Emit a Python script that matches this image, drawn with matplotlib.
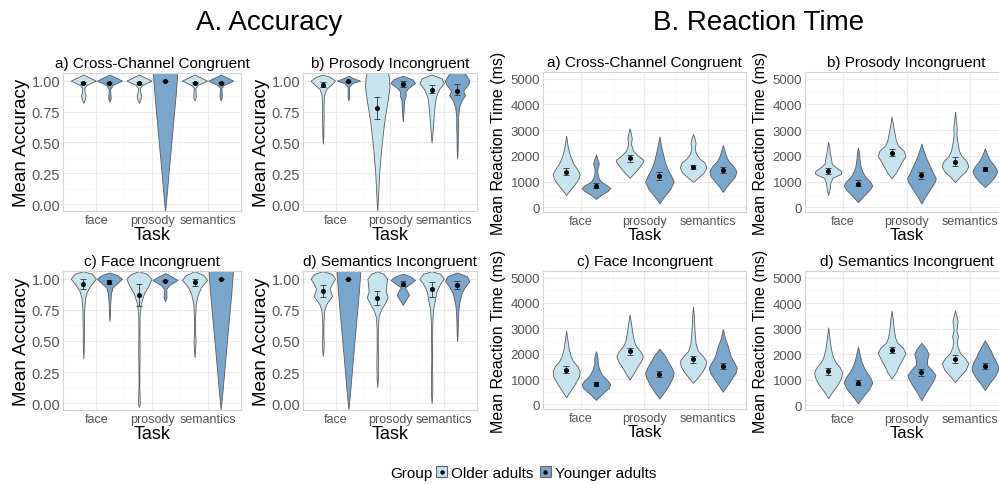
import numpy as np
import matplotlib
matplotlib.use('Agg')
from matplotlib import pyplot as plt
from matplotlib.patches import Patch
from matplotlib.lines import Line2D
from matplotlib.legend_handler import HandlerTuple

plt.rcParams['font.family'] = ['Liberation Sans', 'DejaVu Sans']

tasks = ['face', 'prosody', 'semantics']
groups = ['Older adults', 'Younger adults']
group_colors = ['#c6e3ee', '#7aa6cc']

acc_ticks = [0.0, 0.25, 0.5, 0.75, 1.0]
rt_ticks = [0, 1000, 2000, 3000, 4000, 5000]

# violin outlines as (value, relative width) pairs
# order: face old, face young, prosody old, prosody young, semantics old, semantics young

# --- A. Accuracy ---
acc_cc_shapes = [
    [(0.82, 0), (0.85, 0.12), (0.88, 0.18), (0.91, 0.1), (0.94, 0.08), (0.965, 0.25), (1.0, 1.0), (1.03, 0.4), (1.05, 0)],
    [(0.83, 0), (0.86, 0.1), (0.89, 0.08), (0.93, 0.05), (0.965, 0.25), (1.0, 1.0), (1.03, 0.4), (1.05, 0)],
    [(0.82, 0), (0.85, 0.12), (0.88, 0.18), (0.91, 0.1), (0.94, 0.08), (0.965, 0.25), (1.0, 1.0), (1.03, 0.4), (1.05, 0)],
    [(-0.06, 0), (0.1, 0.15), (0.3, 0.32), (0.5, 0.5), (0.7, 0.68), (0.9, 0.86), (1.1, 1.0)],
    [(0.84, 0), (0.87, 0.1), (0.9, 0.08), (0.94, 0.06), (0.965, 0.25), (1.0, 1.0), (1.03, 0.4), (1.05, 0)],
    [(0.84, 0), (0.87, 0.1), (0.9, 0.08), (0.94, 0.06), (0.965, 0.25), (1.0, 1.0), (1.03, 0.4), (1.05, 0)],
]
acc_cc_mean = [0.98, 0.985, 0.98, 1.0, 0.985, 0.985]
acc_cc_lo = [0.97, 0.978, 0.97, 1.0, 0.978, 0.978]
acc_cc_hi = [0.99, 0.992, 0.99, 1.0, 0.992, 0.992]

acc_pi_shapes = [
    [(0.49, 0), (0.55, 0.04), (0.65, 0.05), (0.72, 0.07), (0.8, 0.06), (0.88, 0.1), (0.93, 0.25), (0.97, 0.7), (1.0, 1.0), (1.03, 0.6), (1.05, 0)],
    [(0.84, 0), (0.87, 0.08), (0.9, 0.05), (0.95, 0.06), (0.98, 0.3), (1.0, 0.95), (1.02, 0.4), (1.04, 0)],
    [(-0.06, 0), (0.05, 0.06), (0.25, 0.16), (0.4, 0.28), (0.5, 0.38), (0.65, 0.55), (0.75, 0.7), (0.85, 0.87), (0.95, 1.0), (1.03, 0.95), (1.1, 0.8)],
    [(0.67, 0), (0.72, 0.04), (0.78, 0.08), (0.84, 0.1), (0.88, 0.25), (0.91, 0.2), (0.94, 0.45), (0.98, 1.0), (1.01, 0.8), (1.04, 0)],
    [(0.5, 0), (0.55, 0.05), (0.62, 0.1), (0.72, 0.18), (0.8, 0.25), (0.87, 0.35), (0.93, 0.6), (0.98, 1.0), (1.02, 0.8), (1.05, 0)],
    [(0.37, 0), (0.45, 0.04), (0.55, 0.05), (0.62, 0.08), (0.7, 0.07), (0.78, 0.15), (0.84, 0.35), (0.88, 0.65), (0.92, 0.5), (0.97, 0.9), (1.0, 1.0), (1.05, 0.7), (1.08, 0.3)],
]
acc_pi_mean = [0.965, 0.995, 0.775, 0.975, 0.925, 0.915]
acc_pi_lo = [0.945, 0.988, 0.69, 0.95, 0.9, 0.88]
acc_pi_hi = [0.99, 1.0, 0.865, 1.0, 0.965, 0.97]

acc_fi_shapes = [
    [(0.36, 0), (0.45, 0.04), (0.6, 0.05), (0.75, 0.07), (0.85, 0.15), (0.9, 0.3), (0.95, 0.6), (1.0, 1.0), (1.04, 0.7), (1.06, 0)],
    [(0.66, 0), (0.72, 0.04), (0.8, 0.06), (0.88, 0.12), (0.93, 0.25), (0.97, 0.7), (1.0, 1.0), (1.03, 0.6), (1.05, 0)],
    [(-0.03, 0), (0.0, 0.08), (0.05, 0.06), (0.15, 0.03), (0.3, 0.04), (0.42, 0.06), (0.55, 0.04), (0.7, 0.05), (0.8, 0.15), (0.88, 0.4), (0.95, 0.8), (1.0, 1.0), (1.04, 0.6), (1.06, 0)],
    [(0.82, 0), (0.85, 0.12), (0.88, 0.1), (0.92, 0.1), (0.95, 0.35), (0.99, 1.0), (1.02, 0.5), (1.045, 0)],
    [(0.37, 0), (0.42, 0.04), (0.5, 0.08), (0.58, 0.04), (0.7, 0.05), (0.8, 0.1), (0.87, 0.25), (0.93, 0.5), (0.99, 1.0), (1.03, 0.7), (1.06, 0)],
    [(-0.05, 0), (0.1, 0.15), (0.3, 0.32), (0.5, 0.5), (0.7, 0.68), (0.9, 0.86), (1.1, 1.0)],
]
acc_fi_mean = [0.955, 0.975, 0.87, 0.985, 0.97, 1.0]
acc_fi_lo = [0.92, 0.96, 0.78, 0.978, 0.94, 1.0]
acc_fi_hi = [0.995, 0.99, 0.96, 0.992, 1.0, 1.0]

acc_si_shapes = [
    [(0.38, 0), (0.43, 0.05), (0.48, 0.08), (0.55, 0.04), (0.65, 0.05), (0.75, 0.12), (0.8, 0.3), (0.86, 0.75), (0.92, 0.55), (0.97, 0.8), (1.0, 1.0), (1.04, 0.7), (1.06, 0)],
    [(-0.05, 0), (0.1, 0.15), (0.3, 0.32), (0.5, 0.5), (0.7, 0.68), (0.9, 0.86), (1.1, 1.0)],
    [(0.13, 0), (0.2, 0.05), (0.3, 0.07), (0.38, 0.06), (0.45, 0.04), (0.6, 0.05), (0.7, 0.12), (0.75, 0.3), (0.8, 0.6), (0.85, 0.85), (0.9, 0.7), (0.95, 0.75), (1.0, 0.8), (1.04, 0.5), (1.06, 0)],
    [(0.79, 0), (0.83, 0.25), (0.87, 0.5), (0.91, 0.3), (0.93, 0.15), (0.96, 0.6), (0.99, 1.0), (1.02, 0.6), (1.04, 0)],
    [(0.0, 0), (0.05, 0.04), (0.15, 0.06), (0.22, 0.05), (0.35, 0.03), (0.5, 0.04), (0.65, 0.06), (0.75, 0.12), (0.82, 0.25), (0.9, 0.4), (0.96, 0.7), (1.0, 1.0), (1.04, 0.7), (1.06, 0)],
    [(0.5, 0), (0.56, 0.04), (0.65, 0.06), (0.75, 0.1), (0.82, 0.2), (0.88, 0.35), (0.93, 0.6), (0.98, 1.0), (1.02, 0.8), (1.05, 0)],
]
acc_si_mean = [0.9, 1.0, 0.845, 0.955, 0.915, 0.95]
acc_si_lo = [0.855, 1.0, 0.79, 0.94, 0.85, 0.92]
acc_si_hi = [0.95, 1.0, 0.9, 0.98, 0.97, 0.98]

# --- B. Reaction Time (ms) ---
rt_cc_shapes = [
    [(480, 0), (700, 0.3), (900, 0.6), (1100, 0.85), (1300, 0.95), (1500, 0.75), (1700, 0.5), (1900, 0.35), (2100, 0.22), (2400, 0.1), (2780, 0)],
    [(330, 0), (500, 0.4), (650, 0.85), (750, 1.0), (850, 0.8), (1000, 0.35), (1150, 0.18), (1350, 0.1), (1500, 0.1), (1700, 0.2), (1850, 0.12), (2060, 0)],
    [(1150, 0), (1350, 0.35), (1550, 0.65), (1750, 0.92), (1850, 0.97), (2000, 0.6), (2200, 0.25), (2450, 0.1), (2700, 0.15), (2900, 0.08), (3070, 0)],
    [(160, 0), (400, 0.3), (700, 0.75), (1000, 1.0), (1200, 0.85), (1400, 0.65), (1700, 0.42), (2000, 0.28), (2300, 0.15), (2750, 0)],
    [(990, 0), (1150, 0.35), (1350, 0.75), (1550, 0.93), (1750, 0.8), (1900, 0.45), (2100, 0.2), (2300, 0.12), (2500, 0.18), (2700, 0.1), (2850, 0)],
    [(600, 0), (800, 0.25), (1000, 0.55), (1200, 0.85), (1400, 0.95), (1600, 0.75), (1800, 0.4), (2000, 0.22), (2200, 0.12), (2420, 0)],
]
rt_cc_mean = [1380, 830, 1900, 1220, 1580, 1450]
rt_cc_lo = [1240, 740, 1780, 1050, 1480, 1340]
rt_cc_hi = [1540, 960, 2030, 1380, 1660, 1560]

rt_pi_shapes = [
    [(480, 0), (700, 0.1), (950, 0.15), (1150, 0.3), (1300, 0.9), (1400, 0.93), (1550, 0.55), (1700, 0.25), (1900, 0.2), (2100, 0.12), (2300, 0.08), (2550, 0)],
    [(200, 0), (450, 0.4), (700, 0.85), (850, 1.0), (1000, 0.85), (1200, 0.5), (1400, 0.3), (1600, 0.18), (1900, 0.1), (2100, 0.08), (2320, 0)],
    [(1130, 0), (1350, 0.3), (1600, 0.55), (1800, 0.75), (2000, 0.98), (2200, 0.85), (2400, 0.45), (2600, 0.3), (2900, 0.2), (3200, 0.1), (3520, 0)],
    [(150, 0), (400, 0.25), (700, 0.6), (1000, 0.95), (1150, 1.0), (1350, 0.8), (1600, 0.6), (1900, 0.35), (2200, 0.15), (2480, 0)],
    [(980, 0), (1200, 0.35), (1400, 0.75), (1600, 0.93), (1800, 0.8), (2000, 0.45), (2200, 0.28), (2500, 0.18), (2800, 0.1), (3100, 0.12), (3400, 0.06), (3720, 0)],
    [(790, 0), (1000, 0.4), (1200, 0.7), (1400, 0.87), (1600, 0.7), (1800, 0.4), (2000, 0.2), (2290, 0)],
]
rt_pi_mean = [1400, 920, 2120, 1240, 1780, 1490]
rt_pi_lo = [1290, 830, 1980, 1100, 1620, 1400]
rt_pi_hi = [1520, 1050, 2270, 1380, 1940, 1570]

rt_fi_shapes = [
    [(280, 0), (500, 0.25), (800, 0.6), (1100, 0.9), (1300, 0.95), (1500, 0.8), (1700, 0.5), (1900, 0.32), (2200, 0.18), (2500, 0.1), (2900, 0)],
    [(180, 0), (400, 0.4), (650, 0.9), (800, 1.0), (950, 0.8), (1150, 0.45), (1350, 0.25), (1600, 0.12), (1800, 0.12), (1950, 0.08), (2100, 0)],
    [(980, 0), (1250, 0.3), (1500, 0.55), (1700, 0.8), (1900, 0.93), (2100, 0.75), (2300, 0.45), (2500, 0.3), (2800, 0.2), (3200, 0.1), (3550, 0)],
    [(230, 0), (500, 0.35), (800, 0.7), (1100, 0.95), (1250, 1.0), (1450, 0.85), (1700, 0.6), (1950, 0.35), (2200, 0)],
    [(850, 0), (1050, 0.3), (1300, 0.65), (1500, 0.85), (1700, 0.93), (1900, 0.7), (2100, 0.35), (2400, 0.18), (2800, 0.12), (3200, 0.08), (3500, 0.06), (3850, 0)],
    [(500, 0), (750, 0.3), (1000, 0.6), (1250, 0.9), (1450, 0.98), (1650, 0.8), (1900, 0.55), (2100, 0.45), (2300, 0.35), (2600, 0.15), (2980, 0)],
]
rt_fi_mean = [1370, 800, 2090, 1210, 1780, 1510]
rt_fi_lo = [1240, 730, 1940, 1080, 1620, 1380]
rt_fi_hi = [1520, 880, 2220, 1330, 1920, 1650]

rt_si_shapes = [
    [(280, 0), (550, 0.3), (850, 0.7), (1100, 0.92), (1300, 0.98), (1500, 0.8), (1700, 0.5), (1900, 0.33), (2200, 0.2), (2600, 0.1), (3050, 0)],
    [(80, 0), (350, 0.35), (650, 0.8), (900, 1.0), (1100, 0.85), (1300, 0.6), (1500, 0.4), (1700, 0.25), (2000, 0.12), (2300, 0)],
    [(1050, 0), (1300, 0.3), (1550, 0.5), (1800, 0.75), (2050, 0.97), (2250, 0.8), (2450, 0.4), (2650, 0.25), (3000, 0.15), (3400, 0.08), (3700, 0)],
    [(200, 0), (500, 0.3), (800, 0.65), (1050, 0.9), (1200, 0.98), (1400, 0.7), (1600, 0.38), (1800, 0.4), (2000, 0.5), (2200, 0.35), (2450, 0)],
    [(920, 0), (1150, 0.35), (1400, 0.75), (1650, 0.93), (1850, 0.7), (2050, 0.35), (2300, 0.18), (2500, 0.12), (2700, 0.2), (2950, 0.1), (3300, 0.18), (3500, 0.1), (3720, 0)],
    [(600, 0), (850, 0.3), (1100, 0.65), (1350, 0.9), (1500, 0.93), (1700, 0.8), (1900, 0.6), (2100, 0.45), (2300, 0.25), (2550, 0)],
]
rt_si_mean = [1350, 890, 2180, 1290, 1820, 1530]
rt_si_lo = [1200, 780, 2040, 1170, 1650, 1420]
rt_si_hi = [1480, 1000, 2300, 1420, 1960, 1640]

W, H = 999, 485


def px_axes(fig, left, right, top, bottom):
    # pixel box of the reference -> figure fraction
    return fig.add_axes([left / W, 1 - bottom / H, (right - left) / W, (bottom - top) / H])


def draw_panel(ax, shapes, means, lo, hi, dodge=0.235, full_width=0.45):
    stats = []
    positions = []
    widths = []
    for i, shape in enumerate(shapes):
        ys = np.array([p[0] for p in shape], dtype=float)
        ws = np.array([p[1] for p in shape], dtype=float)
        stats.append(dict(coords=ys, vals=ws, mean=means[i], median=means[i],
                          min=ys.min(), max=ys.max()))
        positions.append(i // 2 + 1 + (dodge if i % 2 else -dodge))
        widths.append(full_width * ws.max())
    parts = ax.violin(stats, positions=positions, widths=widths, showextrema=False)
    for i, body in enumerate(parts['bodies']):
        body.set_facecolor(group_colors[i % 2])
        body.set_edgecolor('#5c5c5c')
        body.set_linewidth(0.6)
        body.set_alpha(1)
        body.set_zorder(2)
    means = np.array(means, dtype=float)
    yerr = [means - np.array(lo), np.array(hi) - means]
    ax.errorbar(positions, means, yerr=yerr, fmt='o', ms=2.6, color='black',
                ecolor='#333333', elinewidth=0.6, capsize=2.5, capthick=0.6, zorder=5)


def style_axes(ax, kind, title):
    ax.set_xlim(0.4, 3.6)
    ax.set_xticks([1, 2, 3])
    ax.set_xticks([1.5, 2.5], minor=True)
    ax.set_xticklabels(tasks)
    if kind == 'acc':
        ax.set_ylim(-0.055, 1.062)
        ax.set_yticks(acc_ticks)
        ax.set_yticklabels(['%.2f' % t for t in acc_ticks])
        ax.set_yticks([0.125, 0.375, 0.625, 0.875], minor=True)
        ax.set_ylabel('Mean Accuracy', fontsize=13.5, labelpad=1)
        ax.set_xlabel('Task', fontsize=13, labelpad=0)
        ax.tick_params(axis='y', labelsize=10.5)
    else:
        ax.set_ylim(-180, 5260)
        ax.set_yticks(rt_ticks)
        ax.set_yticks([500, 1500, 2500, 3500, 4500], minor=True)
        ax.set_ylabel('Mean Reaction Time (ms)', fontsize=11.5, labelpad=3)
        ax.set_xlabel('Task', fontsize=12, labelpad=0)
        ax.tick_params(axis='y', labelsize=9.5)
    ax.tick_params(axis='x', labelsize=9)
    ax.tick_params(which='both', length=0, pad=2, labelcolor='#555555')
    ax.grid(which='major', color='#ebebeb', linewidth=0.8)
    ax.grid(which='minor', color='#f5f5f5', linewidth=0.5)
    ax.set_axisbelow(True)
    for s in ax.spines.values():
        s.set_color('#d4d4d4')
        s.set_linewidth(0.8)
    ax.set_title(title, fontsize=11, pad=4)


fig = plt.figure(figsize=(W / 100, H / 100), dpi=100)

panels = [
    ((63, 241, 74, 212), 'acc', 'a) Cross-Channel Congruent', acc_cc_shapes, acc_cc_mean, acc_cc_lo, acc_cc_hi),
    ((303, 477, 74, 212), 'acc', 'b) Prosody Incongruent', acc_pi_shapes, acc_pi_mean, acc_pi_lo, acc_pi_hi),
    ((63, 241, 272, 411), 'acc', 'c) Face Incongruent', acc_fi_shapes, acc_fi_mean, acc_fi_lo, acc_fi_hi),
    ((303, 477, 272, 411), 'acc', 'd) Semantics Incongruent', acc_si_shapes, acc_si_mean, acc_si_lo, acc_si_hi),
    ((543, 746, 73, 213), 'rt', 'a) Cross-Channel Congruent', rt_cc_shapes, rt_cc_mean, rt_cc_lo, rt_cc_hi),
    ((805, 1008, 73, 213), 'rt', 'b) Prosody Incongruent', rt_pi_shapes, rt_pi_mean, rt_pi_lo, rt_pi_hi),
    ((543, 746, 272, 410), 'rt', 'c) Face Incongruent', rt_fi_shapes, rt_fi_mean, rt_fi_lo, rt_fi_hi),
    ((805, 1008, 272, 411), 'rt', 'd) Semantics Incongruent', rt_si_shapes, rt_si_mean, rt_si_lo, rt_si_hi),
]

for box, kind, title, shapes, m, lo, hi in panels:
    ax = px_axes(fig, *box)
    draw_panel(ax, shapes, m, lo, hi)
    style_axes(ax, kind, title)

fig.text(269 / W, 1 - 23 / H, 'A. Accuracy', ha='center', va='center', fontsize=20)
fig.text(759 / W, 1 - 23 / H, 'B. Reaction Time', ha='center', va='center', fontsize=20)

# legend: filled key with the mean dot on top
handles = []
for c in group_colors:
    box = Patch(facecolor=c, edgecolor='#666666', linewidth=0.8)
    dot = Line2D([], [], marker='o', ms=2.2, color='black', linestyle='none')
    handles.append((box, dot))
fig.text(390 / W, 1 - 474 / H, 'Group', ha='left', va='center', fontsize=11)
fig.legend(handles, groups, handler_map={tuple: HandlerTuple(ndivide=1)},
           loc='center left', bbox_to_anchor=(436 / W, 1 - 474 / H), ncol=2,
           frameon=False, fontsize=11, handlelength=0.75, handleheight=0.75,
           handletextpad=0.25, columnspacing=0.4, borderpad=0, borderaxespad=0)

fig.savefig('out.png', dpi=100)
